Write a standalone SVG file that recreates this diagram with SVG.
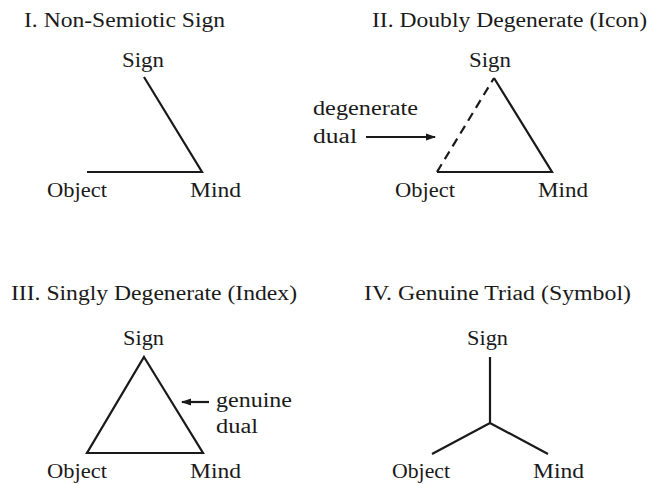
<svg xmlns="http://www.w3.org/2000/svg" width="651" height="485" viewBox="0 0 651 485">
<style>
text{font-family:"Liberation Serif","DejaVu Serif",serif;font-size:20px;fill:#1a1a1a}
.ln{stroke:#1a1a1a;stroke-width:2.2;fill:none;stroke-linejoin:miter}
.ds{stroke-dasharray:9,6}
</style>
<defs>
<marker id="ah" markerWidth="10" markerHeight="8" refX="9" refY="4" orient="auto" markerUnits="userSpaceOnUse">
<path d="M0,0.5 L10,4 L0,7.5 Z" fill="#1a1a1a"/>
</marker>
</defs>
<rect width="651" height="485" fill="#fff"/>
<g id="titles">
<text x="24" y="27" textLength="201" lengthAdjust="spacingAndGlyphs">I.  Non-Semiotic Sign</text>
<text x="372" y="27" textLength="275" lengthAdjust="spacingAndGlyphs">II.  Doubly Degenerate (Icon)</text>
<text x="11" y="300" textLength="286" lengthAdjust="spacingAndGlyphs">III.  Singly Degenerate (Index)</text>
<text x="364" y="300" textLength="267" lengthAdjust="spacingAndGlyphs">IV.  Genuine Triad (Symbol)</text>
</g>
<g id="connectors">
<polyline class="ln" points="144,77 202,172 87,172"/>
<path class="ln" d="M494,78 L552,172 L437,172"/>
<path class="ln ds" d="M437,172 L494,78"/>
<polygon class="ln" points="144,357 203,453 87,453"/>
<path class="ln" d="M490,357 L490,423 M432,454 L490,423 L548,454"/>
<line class="ln" x1="366" y1="137" x2="435" y2="137" stroke-width="1.8" marker-end="url(#ah)"/>
<line class="ln" x1="209" y1="402" x2="182" y2="402" stroke-width="1.8" marker-end="url(#ah)"/>
</g>
<g id="p1-sign"><text x="122" y="67" textLength="42" lengthAdjust="spacingAndGlyphs">Sign</text></g>
<g id="p1-object"><text x="47" y="197" textLength="60" lengthAdjust="spacingAndGlyphs">Object</text></g>
<g id="p1-mind"><text x="190" y="197" textLength="51" lengthAdjust="spacingAndGlyphs">Mind</text></g>
<g id="p2-sign"><text x="469" y="67" textLength="42" lengthAdjust="spacingAndGlyphs">Sign</text></g>
<g id="p2-object"><text x="395" y="197" textLength="60" lengthAdjust="spacingAndGlyphs">Object</text></g>
<g id="p2-mind"><text x="538" y="197" textLength="50" lengthAdjust="spacingAndGlyphs">Mind</text></g>
<g id="p2-label"><text x="313" y="115" textLength="105" lengthAdjust="spacingAndGlyphs">degenerate</text><text x="313" y="143" textLength="44" lengthAdjust="spacingAndGlyphs">dual</text></g>
<g id="p3-sign"><text x="123" y="345" textLength="41" lengthAdjust="spacingAndGlyphs">Sign</text></g>
<g id="p3-object"><text x="47" y="478" textLength="60" lengthAdjust="spacingAndGlyphs">Object</text></g>
<g id="p3-mind"><text x="190" y="478" textLength="51" lengthAdjust="spacingAndGlyphs">Mind</text></g>
<g id="p3-label"><text x="216" y="407" textLength="76" lengthAdjust="spacingAndGlyphs">genuine</text><text x="216" y="433" textLength="42" lengthAdjust="spacingAndGlyphs">dual</text></g>
<g id="p4-sign"><text x="467" y="345" textLength="41" lengthAdjust="spacingAndGlyphs">Sign</text></g>
<g id="p4-object"><text x="392" y="478" textLength="58" lengthAdjust="spacingAndGlyphs">Object</text></g>
<g id="p4-mind"><text x="533" y="478" textLength="51" lengthAdjust="spacingAndGlyphs">Mind</text></g>
</svg>
